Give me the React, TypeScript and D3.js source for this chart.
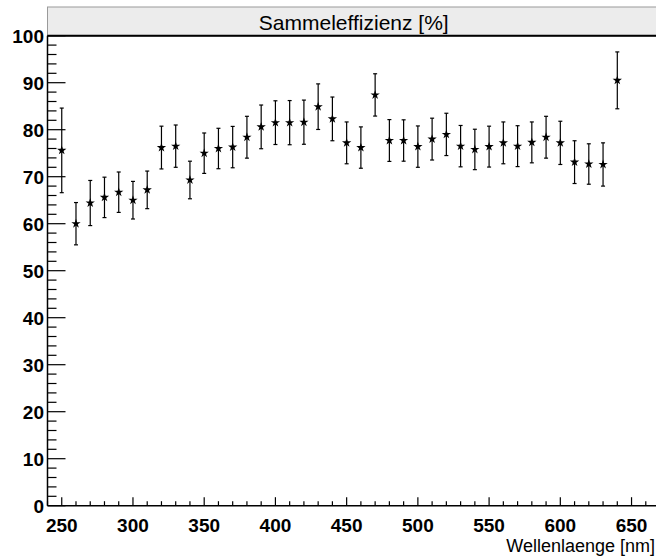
import React from "react";
import * as d3 from "d3";

const wavelengths = [250,260,270,280,290,300,310,320,330,340,350,360,370,380,390,400,410,420,430,440,450,460,470,480,490,500,510,520,530,540,550,560,570,580,590,600,610,620,630,640];
const efficiency = [75.6,60.0,64.4,65.6,66.7,65.0,67.2,76.2,76.5,69.3,75.0,76.0,76.3,78.4,80.6,81.5,81.5,81.6,84.9,82.3,77.2,76.2,87.4,77.7,77.7,76.4,78.0,79.0,76.5,75.8,76.4,77.2,76.5,77.3,78.4,77.2,73.1,72.7,72.6,90.5];
const errors = [9.0,4.5,4.8,4.3,4.3,4.0,4.0,4.55,4.5,4.0,4.3,4.3,4.4,4.45,4.65,4.65,4.7,4.7,4.85,4.65,4.45,4.4,4.5,4.45,4.4,4.4,4.45,4.5,4.4,4.3,4.35,4.45,4.35,4.35,4.45,4.6,4.55,4.3,4.6,6.05];
const xMajorTicks = [250,300,350,400,450,500,550,600,650];
const yMajorTicks = [0,10,20,30,40,50,60,70,80,90,100];
const titleText = "Sammeleffizienz [%]";
const xAxisTitle = "Wellenlaenge [nm]";

export default function App() {
  const W = 656, H = 558;
  const left = 47.5, bottom = 505.7, top = 35.7;
  const x = d3.scaleLinear().domain([240, 670]).range([left, left + 430 * 1.4245]);
  const y = d3.scaleLinear().domain([0, 100]).range([bottom, top]);
  const star = d3.symbol().type(d3.symbolStar).size(27)();

  const xMinor = d3.range(240, 661, 10).filter(v => v % 50 !== 0);
  const yMinor = d3.range(0, 101, 2).filter(v => v % 10 !== 0);
  const font = "'Liberation Sans', Arial, Helvetica, sans-serif";

  return (
    <svg width={W} height={H} style={{ position: "absolute", left: 0, top: 0, background: "#fff" }}>
      <rect x={0} y={0} width={W} height={H} fill="#fff" />
      {/* title box */}
      <rect x={left} y={7} width={W - left + 2} height={29} fill="#ececec" stroke="#9a9a9a" strokeWidth={1} />
      <text x={(left + W) / 2 + 2} y={29.5} textAnchor="middle" fontFamily={font} fontSize={21} fill="#000">{titleText}</text>
      <line x1={left} x2={W} y1={top} y2={top} stroke="#000" strokeWidth={2} />

      {/* axes */}
      <line x1={left} x2={left} y1={top} y2={bottom} stroke="#000" strokeWidth={1.5} />
      <line x1={left} x2={W} y1={bottom} y2={bottom} stroke="#000" strokeWidth={1.5} />

      {yMajorTicks.map(v => (
        <g key={"ym" + v}>
          <line x1={left} x2={left + 18} y1={y(v)} y2={y(v)} stroke="#000" strokeWidth={1.2} />
          <text x={44} y={y(v) + 7} textAnchor="end" fontFamily={font} fontWeight="bold" fontSize={19} fill="#000">{v}</text>
        </g>
      ))}
      {yMinor.map(v => (
        <line key={"yn" + v} x1={left} x2={left + 9} y1={y(v)} y2={y(v)} stroke="#000" strokeWidth={1.2} />
      ))}
      {xMajorTicks.map(v => (
        <g key={"xm" + v}>
          <line x1={x(v)} x2={x(v)} y1={bottom} y2={bottom - 8.5} stroke="#000" strokeWidth={1.2} />
          <text x={x(v)} y={532} textAnchor="middle" fontFamily={font} fontWeight="bold" fontSize={19} fill="#000">{v}</text>
        </g>
      ))}
      {xMinor.map(v => (
        <line key={"xn" + v} x1={x(v)} x2={x(v)} y1={bottom} y2={bottom - 4.5} stroke="#000" strokeWidth={1.2} />
      ))}
      <text x={655} y={552} textAnchor="end" fontFamily={font} fontSize={18} fill="#000">{xAxisTitle}</text>

      {/* data */}
      {wavelengths.map((w, i) => {
        const cx = x(w);
        const v = efficiency[i];
        const e = errors[i];
        const y1 = y(v + e), y2 = y(v - e);
        return (
          <g key={"p" + w}>
            <line x1={cx} x2={cx} y1={y1} y2={y2} stroke="#000" strokeWidth={1.2} />
            <line x1={cx - 2} x2={cx + 2} y1={y1} y2={y1} stroke="#000" strokeWidth={1.2} />
            <line x1={cx - 2} x2={cx + 2} y1={y2} y2={y2} stroke="#000" strokeWidth={1.2} />
            <path d={star} transform={`translate(${cx},${y(v)})`} fill="#000" />
          </g>
        );
      })}
    </svg>
  );
}
